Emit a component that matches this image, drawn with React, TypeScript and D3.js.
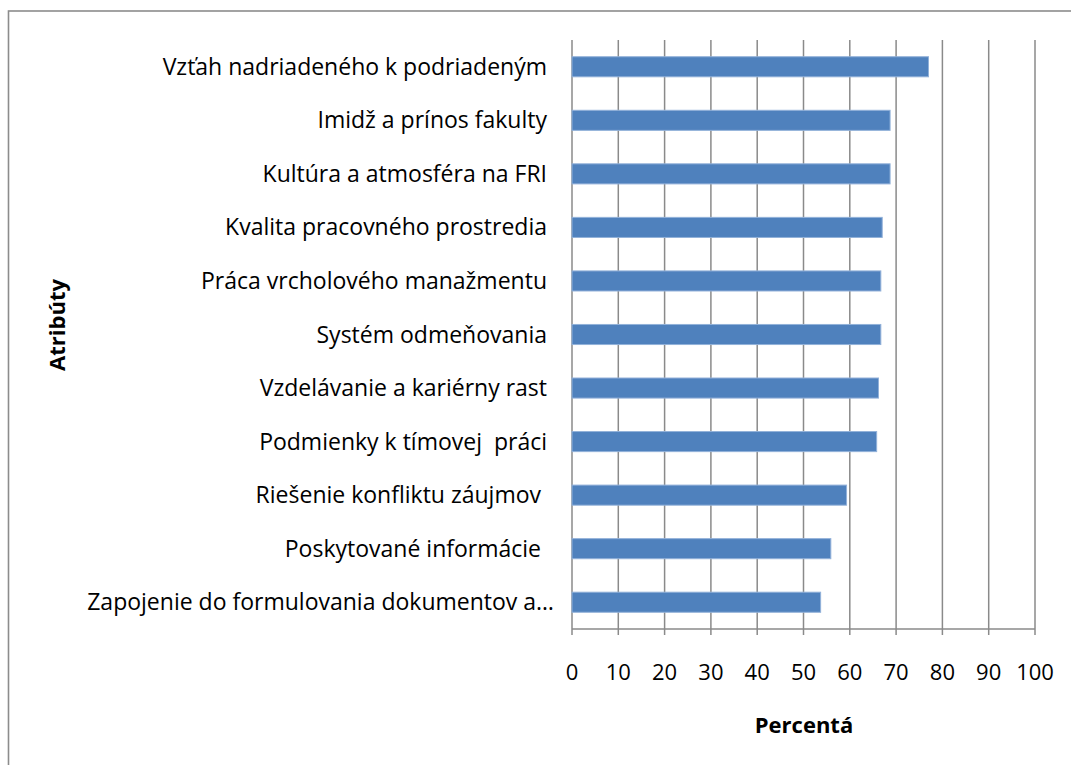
import React from "react";
import * as d3 from "d3";

const categories = [
  "Vzťah nadriadeného k podriadeným",
  "Imidž a prínos fakulty",
  "Kultúra a atmosféra na FRI",
  "Kvalita pracovného prostredia",
  "Práca vrcholového manažmentu",
  "Systém odmeňovania",
  "Vzdelávanie a kariérny rast",
  "Podmienky k tímovej  práci",
  "Riešenie konfliktu záujmov ",
  "Poskytované informácie ",
  "Zapojenie do formulovania dokumentov a…",
];
const values = [77.0, 68.7, 68.7, 67.0, 66.7, 66.7, 66.2, 65.8, 59.3, 55.9, 53.7];
const xTicks = [0, 10, 20, 30, 40, 50, 60, 70, 80, 90, 100];
const xTitle = "Percentá";
const yTitle = "Atribúty";

const W = 1071;
const H = 765;
const left = 572;
const right = 1035;
const top = 40;
const bottom = 629;
const FONT = "'Open Sans', sans-serif";

export default function App() {
  const x = d3.scaleLinear().domain([0, 100]).range([left, right]);
  const y = d3
    .scaleBand<string>()
    .domain(categories)
    .range([top, bottom])
    .paddingInner(0.625)
    .paddingOuter(0.3125);
  const grid = "#8a8a8a";
  return (
    <svg
      width={W}
      height={H}
      style={{ position: "absolute", left: 0, top: 0, background: "#fff" }}
    >
      <rect x={0} y={0} width={W} height={H} fill="#fff" />
      <rect x={8.5} y={11} width={W + 20} height={H + 20} fill="none" stroke="#8c8c8c" strokeWidth={1.6} />
      {xTicks.map((t) => (
        <line key={"g" + t} x1={x(t)} x2={x(t)} y1={top} y2={bottom + 6} stroke={grid} strokeWidth={1.5} />
      ))}
      <line x1={left} x2={right} y1={bottom} y2={bottom} stroke={grid} strokeWidth={1.5} />
      {categories.map((c, i) => (
        <rect
          key={c}
          x={x(0)}
          y={y(c)!}
          width={x(values[i]) - x(0)}
          height={y.bandwidth()}
          fill="#4F81BD"
          stroke="#92b1d9"
          strokeWidth={1}
        />
      ))}
      {categories.map((c, i) => (
        <text
          key={"l" + c}
          x={i === categories.length - 1 ? 554 : 547}
          y={y(c)! + y.bandwidth() / 2}
          dy="0.35em"
          textAnchor="end"
          fontFamily={FONT}
          fontSize={23}
          fill="#000"
          style={{ whiteSpace: "pre" }}
        >
          {c}
        </text>
      ))}
      {xTicks.map((t) => (
        <text
          key={"t" + t}
          x={x(t)}
          y={672}
          dy="0.35em"
          textAnchor="middle"
          fontFamily={FONT}
          fontSize={22}
          fill="#000"
        >
          {t}
        </text>
      ))}
      <text x={804} y={733} textAnchor="middle" fontFamily={FONT} fontSize={22} fontWeight="bold" fill="#000">
        {xTitle}
      </text>
      <text
        transform={`translate(65, 325) rotate(-90)`}
        textAnchor="middle"
        fontFamily={FONT}
        fontSize={22}
        fontWeight="bold"
        fill="#000"
      >
        {yTitle}
      </text>
    </svg>
  );
}
